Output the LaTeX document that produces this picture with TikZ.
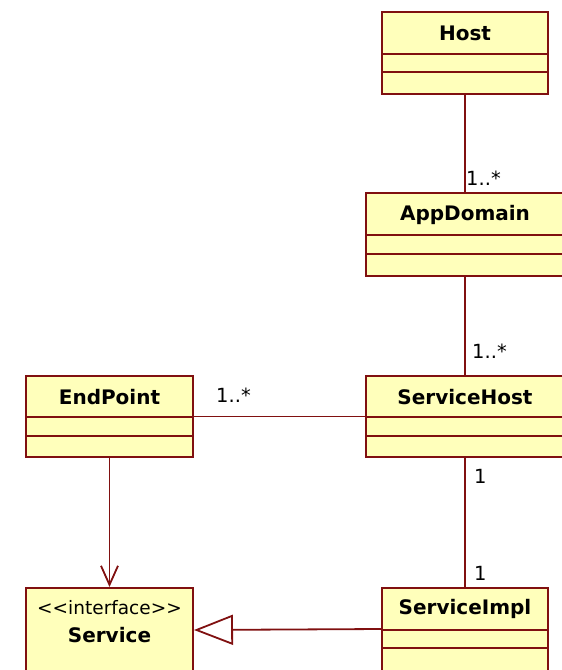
\documentclass[tikz,border=0pt]{standalone}
\usepackage{fontspec}
\setmainfont{DejaVu Sans}
\usetikzlibrary{arrows.meta,calc}
\definecolor{umlborder}{RGB}{128,16,16}
\definecolor{umlfill}{RGB}{255,255,187}
\begin{document}
\begin{tikzpicture}[x=1pt,y=-1pt,
  cls/.style={draw=umlborder, fill=umlfill, line width=2pt, rectangle, inner sep=0pt},
  cname/.style={font=\fontsize{20}{22}\selectfont\bfseries, inner sep=0pt},
  stereo/.style={font=\fontsize{18.5}{20}\selectfont, inner sep=0pt},
  sepline/.style={draw=umlborder, line width=1.6pt},
  conn/.style={draw=umlborder, line width=1.8pt},
  mult/.style={font=\fontsize{19.5}{21}\selectfont, inner sep=0pt, anchor=west}
]
\useasboundingbox (0,0) rectangle (562,670);
\clip (0,0) rectangle (562,670);

% classes
\node[cls, minimum width=166pt, minimum height=82pt] (host) at (465,53) {};
\node[cls, minimum width=198pt, minimum height=83pt] (appdomain) at (465,234.5) {};
\node[cls, minimum width=167pt, minimum height=81pt] (endpoint) at (109.5,416.5) {};
\node[cls, minimum width=198pt, minimum height=81pt] (servicehost) at (465,416.5) {};
\node[cls, minimum width=167pt, minimum height=120pt] (service) at (109.5,648) {};
\node[cls, minimum width=166pt, minimum height=120pt] (serviceimpl) at (465,648) {};

% compartments
\foreach \n/\a/\b in {host/43/61, appdomain/43/62, endpoint/42/61, servicehost/42/61, serviceimpl/43/61}{
  \draw[sepline] ($(\n.north west)+(0,\a)$) -- ($(\n.north east)+(0,\a)$);
  \draw[sepline] ($(\n.north west)+(0,\b)$) -- ($(\n.north east)+(0,\b)$);
}

% names
\node[cname] (hostname) at ($(host.north)+(0,22.5)$) {Host};
\node[cname] (appdomainname) at ($(appdomain.north)+(0,23)$) {AppDomain};
\node[cname] (endpointname) at ($(endpoint.north)+(0,22)$) {EndPoint};
\node[cname] (servicehostname) at ($(servicehost.north)+(0,22)$) {ServiceHost};
\node[stereo] (servicestereo) at ($(service.north)+(0,21)$) {<\kern0pt<interface>\kern0pt>};
\node[cname] (servicename) at ($(service.north)+(0,48.5)$) {Service};
\node[cname] (serviceimplname) at ($(serviceimpl.north)+(0,22)$) {ServiceImpl};

% connectors
\draw[conn] (host.south) -- (appdomain.north);
\draw[conn] (appdomain.south) -- (servicehost.north);
\draw[conn] (endpoint.east) -- (servicehost.west);
\draw[conn] (servicehost.south) -- (serviceimpl.north);
\draw[conn, -{Straight Barb[length=19pt,width=17pt]}] (endpoint.south) -- (service.north);
\draw[conn, -{Triangle[open, length=39pt, width=30pt, fill=white]}]
  ($(serviceimpl.north west)+(0,42)$) -- ($(service.north east)+(0,43)$);

% multiplicities
\node[mult] (m1) at ($(appdomain.north)+(1,-14)$) {1..*};
\node[mult] (m2) at ($(servicehost.north)+(7,-24)$) {1..*};
\node[mult] (m3) at ($(endpoint.east)+(22,-21)$) {1..*};
\node[mult] (m4) at ($(servicehost.south)+(9,18)$) {1};
\node[mult] (m5) at ($(serviceimpl.north)+(9,-14)$) {1};
\end{tikzpicture}
\end{document}
